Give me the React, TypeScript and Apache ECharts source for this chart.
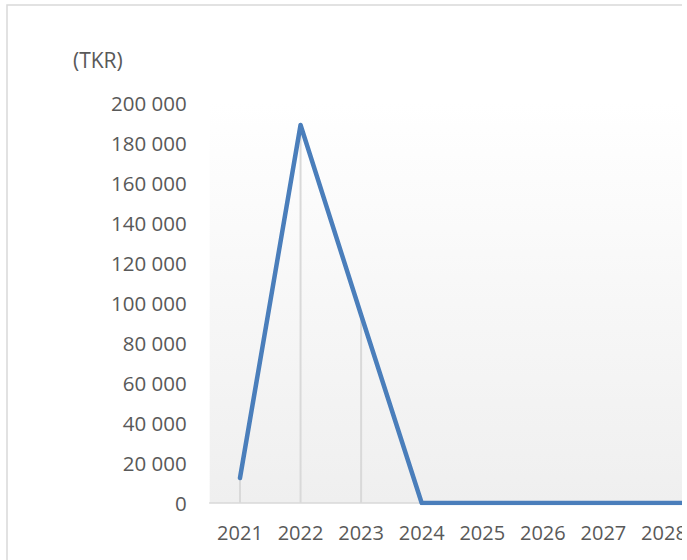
import React, { useEffect, useRef } from "react";
import * as echarts from "echarts";

const categories = ["2021", "2022", "2023", "2024", "2025", "2026", "2027", "2028", "2029", "2030"];
const values = [12500, 189000, 94000, 0, 0, 0, 0, 0, 0, 0];
const visibleLabelCount = 8;
const unitLabel = "(TKR)";
const yMin = 0;
const yMax = 200000;
const yInterval = 20000;

const fmt = (v: number) => {
  const s = String(Math.round(v));
  return s.replace(/\B(?=(\d{3})+(?!\d))/g, " ");
};

export default function App() {
  const ref = useRef<HTMLDivElement>(null);
  useEffect(() => {
    if (!ref.current) return;
    const chart = echarts.init(ref.current, undefined, { renderer: "svg" });
    const font = "'Open Sans', 'Noto Sans', sans-serif";
    const catStep = 60.57;
    chart.setOption({
      animation: false,
      backgroundColor: "#ffffff",
      graphic: [
        {
          type: "rect",
          shape: { x: 7, y: 5, width: 880, height: 640 },
          style: { fill: "none", stroke: "#d9d9d9", lineWidth: 1.5 },
          silent: true,
          z: 0,
        },
        {
          type: "text",
          x: 73,
          y: 60,
          style: {
            text: unitLabel,
            font: `21px ${font}`,
            fill: "#595959",
            textVerticalAlign: "middle",
          },
        },
      ],
      grid: {
        left: 209.7,
        top: 103,
        width: catStep * categories.length,
        bottom: 57,
        show: true,
        borderWidth: 0,
        backgroundColor: new echarts.graphic.LinearGradient(0, 0, 0, 1, [
          { offset: 0, color: "#ffffff" },
          { offset: 1, color: "#efefef" },
        ]),
      },
      xAxis: {
        type: "category",
        data: categories,
        boundaryGap: true,
        axisLine: { lineStyle: { color: "#d9d9d9", width: 1.5 } },
        axisTick: { show: false },
        axisLabel: {
          color: "#595959",
          fontSize: 20,
          fontFamily: font,
          margin: 19,
          interval: (i: number) => i < visibleLabelCount,
        },
        splitLine: { show: false },
      },
      yAxis: {
        type: "value",
        min: yMin,
        max: yMax,
        interval: yInterval,
        axisLine: { show: false },
        axisTick: { show: false },
        splitLine: { show: false },
        axisLabel: {
          color: "#595959",
          fontSize: 20.5,
          fontFamily: font,
          margin: 23,
          formatter: (v: number) => fmt(v),
        },
      },
      series: [
        {
          type: "bar",
          data: values,
          barWidth: 2,
          itemStyle: { color: "#d9d9d9" },
          silent: true,
          z: 1,
        },
        {
          type: "line",
          data: values,
          symbol: "none",
          lineStyle: { color: "#4a7ebb", width: 4.5, cap: "round", join: "round" },
          z: 3,
        },
      ],
    });
    return () => chart.dispose();
  }, []);
  return (
    <div
      style={{
        position: "absolute",
        left: 0,
        top: 0,
        width: 682,
        height: 560,
        overflow: "hidden",
        background: "#fff",
      }}
    >
      <div ref={ref} style={{ width: 900, height: 560 }} />
    </div>
  );
}
